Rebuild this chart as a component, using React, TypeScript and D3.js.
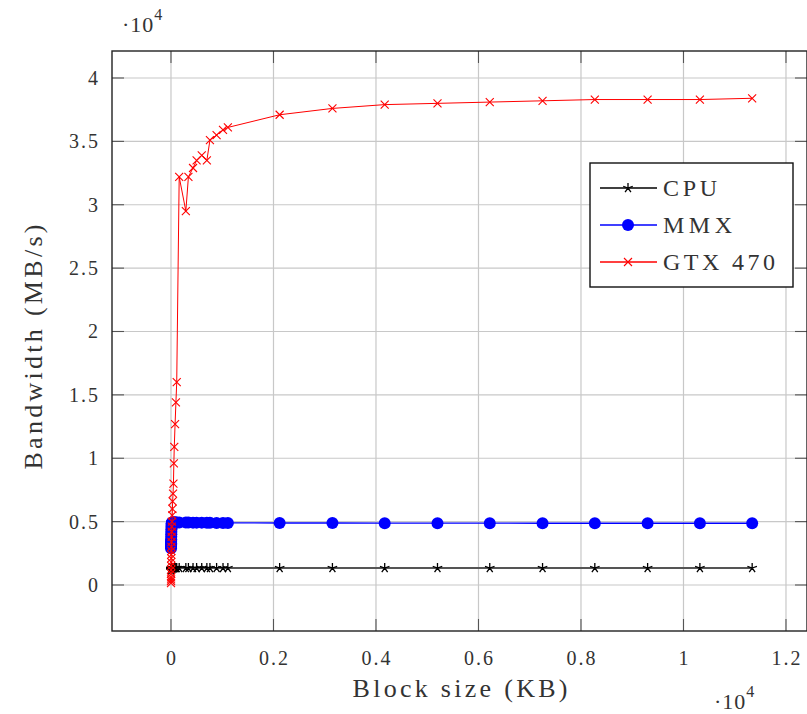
import React from "react";
import * as d3 from "d3";

// Block sizes (KB) shared by the three series
const sizesSmall = [0.5, 1, 1.5, 2, 2.5, 3, 3.5, 4, 5, 6, 7, 8, 10, 12, 14, 16, 20, 24, 28, 32, 40, 48, 56, 64, 80, 96, 112];
const sizesMid = [160, 290, 340, 430, 500, 600, 700, 760, 890, 1015, 1110];
const sizesBig = [2120, 3150, 4170, 5200, 6220, 7250, 8270, 9300, 10320, 11340];

// Bandwidth (MB/s)
const cpuSmall = [1150, 1170, 1190, 1210, 1220, 1230, 1240, 1250, 1260, 1270, 1280, 1290, 1300, 1300, 1310, 1310, 1320, 1320, 1320, 1330, 1330, 1330, 1330, 1340, 1340, 1340, 1340];
const cpuMid = [1340, 1340, 1340, 1340, 1340, 1340, 1340, 1340, 1340, 1340, 1340];
const cpuBig = [1340, 1340, 1340, 1340, 1340, 1340, 1340, 1340, 1340, 1340];

const mmxSmall = [2900, 3000, 3100, 3200, 3300, 3400, 3500, 3600, 3800, 4000, 4200, 4400, 4600, 4750, 4850, 4900, 4900, 4910, 4920, 4920, 4920, 4930, 4930, 4930, 4930, 4930, 4930];
const mmxMid = [4930, 4930, 4930, 4920, 4920, 4920, 4910, 4910, 4900, 4900, 4900];
const mmxBig = [4890, 4890, 4880, 4880, 4880, 4870, 4870, 4870, 4870, 4870];

const gtxSmall = [150, 300, 450, 600, 900, 1200, 1500, 1800, 2100, 2400, 2700, 3000, 3400, 3800, 4200, 4600, 5000, 5500, 6000, 6600, 7200, 8000, 9600, 10900, 12700, 14400, 16000];
const gtxMid = [32200, 29500, 32200, 32900, 33500, 33900, 33500, 35100, 35500, 35900, 36100];
const gtxBig = [37100, 37600, 37900, 38000, 38100, 38200, 38300, 38300, 38300, 38400];

const xTicks = [0, 2000, 4000, 6000, 8000, 10000, 12000];
const yTicks = [0, 5000, 10000, 15000, 20000, 25000, 30000, 35000, 40000];

const seriesNames = ["CPU", "MMX", "GTX 470"];

const W = 807;
const H = 714;
const L = 112, R = 807, T = 51, B = 631;
const FONT = "'Liberation Serif', 'DejaVu Serif', serif";

const sizes = [...sizesSmall, ...sizesMid, ...sizesBig];
const cpu = [...cpuSmall, ...cpuMid, ...cpuBig];
const mmx = [...mmxSmall, ...mmxMid, ...mmxBig];
const gtx = [...gtxSmall, ...gtxMid, ...gtxBig];

const x = d3.scaleLinear().domain([-1151, 12410]).range([L, R]);
const y = d3.scaleLinear().domain([-3630, 42130]).range([B, T]);

const fmt = (v: number) => String(+(v / 10000).toFixed(1));

function Star({ cx, cy, r = 5 }: { cx: number; cy: number; r?: number }) {
  const d = d3.range(5).map((i) => {
    const a = -Math.PI / 2 + (i * 2 * Math.PI) / 5;
    return `M${cx},${cy}L${cx + r * Math.cos(a)},${cy + r * Math.sin(a)}`;
  }).join("");
  return <path d={d} stroke="#000" strokeWidth={1.3} fill="none" />;
}

function Cross({ cx, cy, r = 4 }: { cx: number; cy: number; r?: number }) {
  return (
    <path
      d={`M${cx - r},${cy - r}L${cx + r},${cy + r}M${cx - r},${cy + r}L${cx + r},${cy - r}`}
      stroke="#ff0000"
      strokeWidth={1.1}
      fill="none"
    />
  );
}

export default function App() {
  const line = d3.line<[number, number]>().x((d) => x(d[0])).y((d) => y(d[1]));
  const cpuPts: [number, number][] = sizes.map((s, i) => [s, cpu[i]]);
  const mmxPts: [number, number][] = sizes.map((s, i) => [s, mmx[i]]);
  const gtxPts: [number, number][] = sizes.map((s, i) => [s, gtx[i]]);

  const legendX = 590, legendY = 163, legendW = 203, legendH = 124;
  const rows = [188, 225, 262];
  const legendLens = [54, 69, 112];

  return (
    <svg width={W} height={H} style={{ position: "absolute", left: 0, top: 0, background: "#fff" }} fontFamily={FONT}>
      <defs>
        <clipPath id="plot">
          <rect x={L} y={T} width={R - L} height={B - T} />
        </clipPath>
      </defs>
      {/* grid */}
      {xTicks.map((t) => (
        <line key={"gx" + t} x1={x(t)} x2={x(t)} y1={T} y2={B} stroke="#c8c8c8" strokeWidth={1.2} />
      ))}
      {yTicks.map((t) => (
        <line key={"gy" + t} x1={L} x2={R} y1={y(t)} y2={y(t)} stroke="#c8c8c8" strokeWidth={1.2} />
      ))}
      {/* ticks (inward on all sides) */}
      {xTicks.map((t) => (
        <g key={"tx" + t} stroke="#555" strokeWidth={1.1}>
          <line x1={x(t)} x2={x(t)} y1={B} y2={B - 12} />
          <line x1={x(t)} x2={x(t)} y1={T} y2={T + 12} />
        </g>
      ))}
      {yTicks.map((t) => (
        <g key={"ty" + t} stroke="#555" strokeWidth={1.1}>
          <line x1={L} x2={L + 12} y1={y(t)} y2={y(t)} />
          <line x1={R} x2={R - 12} y1={y(t)} y2={y(t)} />
        </g>
      ))}
      {/* series */}
      <g clipPath="url(#plot)">
        <path d={line(cpuPts) || ""} fill="none" stroke="#555" strokeWidth={1.8} />
        {cpuPts.map((p, i) => (
          <Star key={"c" + i} cx={x(p[0])} cy={y(p[1])} />
        ))}
        <path d={line(mmxPts) || ""} fill="none" stroke="#0000ff" strokeWidth={1.3} />
        {mmxPts.map((p, i) => (
          <circle key={"m" + i} cx={x(p[0])} cy={y(p[1])} r={6} fill="#0000ff" />
        ))}
        <path d={line(gtxPts) || ""} fill="none" stroke="#ff0000" strokeWidth={1} />
        {gtxPts.map((p, i) => (
          <Cross key={"g" + i} cx={x(p[0])} cy={y(p[1])} />
        ))}
      </g>
      {/* frame */}
      <rect x={L} y={T} width={R - L} height={B - T} fill="none" stroke="#222" strokeWidth={1.4} />
      {/* tick labels */}
      {xTicks.map((t) => (
        <text key={"lx" + t} x={x(t) + 1} y={665} textAnchor="middle" fontSize={20} fill="#333" letterSpacing={2}>
          {fmt(t)}
        </text>
      ))}
      {yTicks.map((t) => (
        <text key={"ly" + t} x={100} y={y(t) + 7} textAnchor="end" fontSize={20} fill="#333" letterSpacing={2}>
          {fmt(t)}
        </text>
      ))}
      {/* exponents */}
      <text x={122} y={32} fontSize={22} fill="#333" letterSpacing={1}>
        ·10<tspan fontSize={16} dy={-12}>4</tspan>
      </text>
      <text x={714} y={709} fontSize={22} fill="#333" letterSpacing={1}>
        ·10<tspan fontSize={16} dy={-12}>4</tspan>
      </text>
      {/* axis labels */}
      <text x={460} y={697} textAnchor="middle" fontSize={26} fill="#333" textLength={215} lengthAdjust="spacing">
        Block size (KB)
      </text>
      <text
        transform={`translate(42,347) rotate(-90)`}
        textAnchor="middle"
        fontSize={26}
        fill="#333"
        textLength={245}
        lengthAdjust="spacing"
      >
        Bandwidth (MB/s)
      </text>
      {/* legend */}
      <rect x={legendX} y={legendY} width={legendW} height={legendH} fill="#fff" stroke="#111" strokeWidth={1.4} />
      {rows.map((ry, i) => (
        <g key={"lg" + i}>
          <line
            x1={600}
            x2={657}
            y1={ry}
            y2={ry}
            stroke={i === 0 ? "#000" : i === 1 ? "#0000ff" : "#ff0000"}
            strokeWidth={1.3}
          />
          {i === 0 && <Star cx={628} cy={ry} />}
          {i === 1 && <circle cx={628} cy={ry} r={6} fill="#0000ff" />}
          {i === 2 && <Cross cx={628} cy={ry} />}
          <text x={663} y={ry + 8} fontSize={24} fill="#333" textLength={legendLens[i]} lengthAdjust="spacing">
            {seriesNames[i]}
          </text>
        </g>
      ))}
    </svg>
  );
}
